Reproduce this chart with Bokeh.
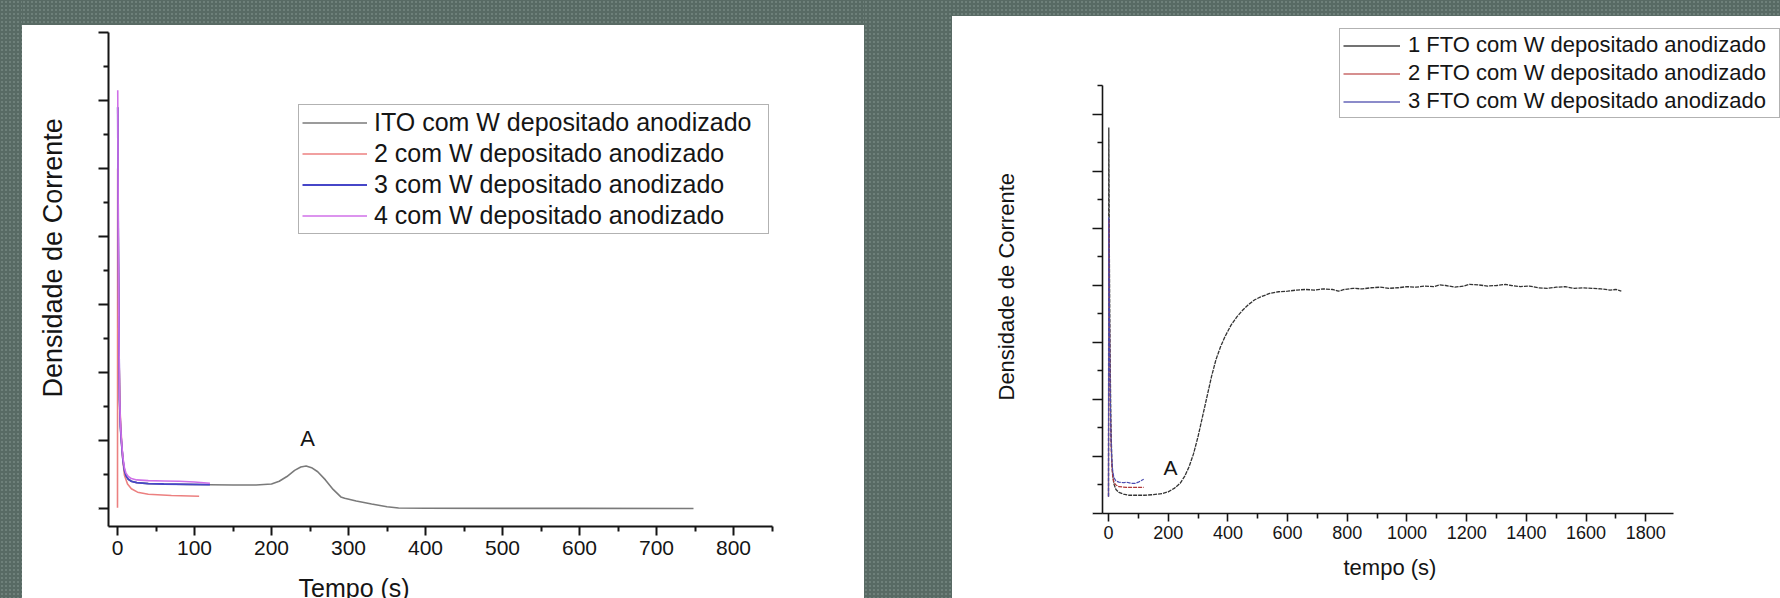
from bokeh.plotting import figure
from bokeh.layouts import row, column
from bokeh.models import (Label, Legend, LegendItem, FixedTicker, Range1d, Title, Spacer,
                          LinearAxis)
from bokeh.embed import file_html
from bokeh.resources import INLINE

# ---------------- data: left chart (ITO) ----------------
ito_t = [0.3, 1.0, 1.8, 2.6, 3.8, 5, 7, 9, 11, 14, 18, 25, 40, 60, 90, 120, 150, 180, 200,
         210, 220, 230, 238, 245, 252, 260, 270, 280, 290, 295, 310, 330, 350, 365, 400, 500, 600, 748]
ito_y = [5.9, 4.0, 2.6, 1.6, 1.2, 0.99, 0.72, 0.56, 0.48, 0.43, 0.40, 0.38, 0.365, 0.36, 0.355, 0.35, 0.345, 0.345, 0.36,
         0.40, 0.47, 0.56, 0.61, 0.625, 0.60, 0.54, 0.42, 0.28, 0.17, 0.15, 0.11, 0.065, 0.025, 0.006, 0.003, 0.002, 0.001, 0.0]

w2_t = [0, 0.2, 1.0, 2.0, 3.5, 5.5, 7, 9, 13, 18, 26, 40, 70, 106]
w2_y = [0.01, 5.0, 3.5, 2.2, 1.4, 0.95, 0.7, 0.49, 0.36, 0.29, 0.24, 0.21, 0.19, 0.18]

w3_t = [0.3, 1.0, 1.8, 2.6, 3.8, 5, 7, 9, 11, 14, 18, 25, 40, 60, 90, 120]
w3_y = [5.9, 4.0, 2.6, 1.6, 1.2, 0.99, 0.72, 0.56, 0.48, 0.43, 0.40, 0.38, 0.365, 0.36, 0.355, 0.35]

w4_t = [0.3, 1.0, 1.8, 2.6, 3.8, 5, 7, 9, 11, 14, 18, 25, 40, 60, 80, 100, 120]
w4_y = [6.15, 4.1, 2.7, 1.7, 1.25, 1.02, 0.75, 0.6, 0.52, 0.47, 0.44, 0.42, 0.41, 0.405, 0.40, 0.39, 0.37]

left_labels = ["ITO com W depositado anodizado", "2 com W depositado anodizado",
               "3 com W depositado anodizado", "4 com W depositado anodizado"]
left_xticks = [0, 100, 200, 300, 400, 500, 600, 700, 800]
left_xminor = [50, 150, 250, 350, 450, 550, 650, 750, 850]
left_yticks = [0, 1, 2, 3, 4, 5, 6, 7]
left_yminor = [0.5, 1.5, 2.5, 3.5, 4.5, 5.5, 6.5]

# ---------------- data: right chart (FTO) ----------------
f1_t = [0, 1, 3, 5, 8, 11, 14, 18, 25, 35, 50, 70, 90, 120, 150, 180, 200, 220, 240, 255, 270, 285,
        300, 315, 330, 345, 360, 375, 390, 410, 430, 450, 470, 490, 510, 540, 570,
        600, 630, 660, 690, 720, 750, 770, 790, 820, 850, 880, 910, 940, 970, 1000, 1030, 1060, 1090,
        1110, 1130, 1160, 1190, 1210, 1240, 1270, 1300, 1330, 1350, 1380, 1410, 1440, 1470, 1500,
        1530, 1560, 1590, 1620, 1650, 1680, 1700, 1718]
f1_y = [0.3, 6.77, 4.5, 3.0, 1.6, 0.95, 0.68, 0.52, 0.42, 0.37, 0.34, 0.32, 0.32, 0.32, 0.33, 0.35, 0.38, 0.44, 0.53, 0.65, 0.82, 1.05,
        1.35, 1.7, 2.05, 2.4, 2.7, 2.92, 3.1, 3.3, 3.45, 3.57, 3.67, 3.75, 3.8, 3.86, 3.89,
        3.90, 3.92, 3.93, 3.92, 3.94, 3.93, 3.90, 3.93, 3.95, 3.94, 3.96, 3.97, 3.95, 3.96, 3.98, 3.97, 3.99, 3.98,
        4.01, 4.00, 3.97, 3.99, 4.02, 4.01, 3.99, 4.00, 4.02, 4.00, 3.98, 3.99, 3.96, 3.95, 3.97,
        3.98, 3.95, 3.96, 3.95, 3.94, 3.92, 3.93, 3.90]

f2_t = [0, 1, 3, 5, 8, 11, 14, 18, 25, 35, 60, 90, 118]
f2_y = [0.3, 5.15, 3.5, 2.3, 1.3, 0.85, 0.65, 0.55, 0.50, 0.47, 0.46, 0.46, 0.46]

f3_t = [0, 1, 3, 5, 8, 11, 14, 18, 25, 35, 50, 60, 75, 90, 100, 110, 118]
f3_y = [0.3, 5.2, 3.6, 2.4, 1.4, 0.95, 0.75, 0.63, 0.57, 0.55, 0.54, 0.55, 0.53, 0.53, 0.55, 0.58, 0.60]

right_labels = ["1 FTO com W depositado anodizado", "2 FTO com W depositado anodizado",
                "3 FTO com W depositado anodizado"]
right_xticks = [0, 200, 400, 600, 800, 1000, 1200, 1400, 1600, 1800]
right_xminor = [100, 300, 500, 700, 900, 1100, 1300, 1500, 1700]
right_yticks = [0, 1, 2, 3, 4, 5, 6, 7]
right_yminor = [0.5, 1.5, 2.5, 3.5, 4.5, 5.5, 6.5, 7.5]

FONT = "Liberation Sans"
INK = "#151515"


def style_axes(p, lw, xtick, ytick, tick_minor, label_size, standoff):
    p.grid.visible = False
    p.outline_line_color = None
    for ax, tk in ((p.xaxis[0], xtick), (p.yaxis[0], ytick)):
        ax.axis_line_width = lw
        ax.axis_line_color = INK
        ax.major_tick_line_width = lw
        ax.minor_tick_line_width = lw
        ax.major_tick_line_color = INK
        ax.minor_tick_line_color = INK
        ax.major_tick_in = 0
        ax.minor_tick_in = 0
        ax.major_tick_out = tk
        ax.minor_tick_out = tick_minor
    p.xaxis.major_label_text_font = FONT
    p.xaxis.major_label_text_font_size = label_size
    p.xaxis.major_label_text_color = INK
    p.xaxis.major_label_standoff = standoff
    p.yaxis.major_label_text_color = None
    p.yaxis.major_label_standoff = 0


def title(text, size, offset):
    return Title(text=text, align="left", offset=offset, standoff=0,
                 text_font=FONT, text_font_size=size, text_font_style="normal",
                 text_color=INK)


def pad_axis(px, at):
    # blank axis (no line, white tick on white, no labels) that only reserves px of room
    return LinearAxis(ticker=FixedTicker(ticks=[at], minor_ticks=[]), axis_line_color=None,
                      major_tick_out=px, major_tick_in=0, minor_tick_out=0, minor_tick_in=0,
                      major_tick_line_color="white", major_tick_line_width=1,
                      major_label_text_color=None, major_label_standoff=0)


# ---------------- left figure ----------------
p1 = figure(width=842, height=581, title=None, output_backend="svg", toolbar_location=None,
            x_range=Range1d(-11.7, 850.6), y_range=Range1d(-0.265, 7.103),
            min_border_left=86, min_border_right=92, min_border_top=0, min_border_bottom=80,
            background_fill_color="white", border_fill_color="white")
style_axes(p1, 2, 9, 10, 5, "21px", 5)
p1.xaxis.ticker = FixedTicker(ticks=left_xticks, minor_ticks=left_xminor)
p1.yaxis.ticker = FixedTicker(ticks=left_yticks, minor_ticks=left_yminor)
p1.yaxis.bounds = (-0.265, 7.0)

r_ito = p1.line(ito_t, ito_y, line_color="#7a7a7a", line_width=1.6)
r_w2 = p1.line(w2_t, w2_y, line_color="#ec8080", line_width=1.6)
r_w3 = p1.line(w3_t, w3_y, line_color="#4646c8", line_width=1.8)
r_w4 = p1.line(w4_t, w4_y, line_color="#d070e8", line_width=1.6)

leg1 = Legend(items=[LegendItem(label=l, renderers=[r]) for l, r in
                     zip(left_labels, [r_ito, r_w2, r_w3, r_w4])],
              location=(190, 292), label_text_font=FONT, label_text_font_size="25px",
              label_text_color=INK, glyph_width=65, glyph_height=29, label_height=29,
              label_width=391, label_standoff=7, spacing=2, padding=3, margin=0,
              border_line_color="#666666", border_line_width=1.5, background_fill_color="white",
              background_fill_alpha=1.0)
p1.add_layout(leg1)

p1.add_layout(Label(x=247, y=1.03, text="A", text_font=FONT, text_font_size="22px",
                    text_color=INK, text_align="center", text_baseline="middle"))
p1.add_layout(pad_axis(14, 800), "below")
p1.add_layout(title("Tempo (s)", "25px", 190), "below")
p1.add_layout(pad_axis(31, 0), "left")
p1.add_layout(title("Densidade de Corrente", "27px", 129), "left")

# ---------------- right figure ----------------
p2 = figure(width=828, height=577, title=None, output_backend="svg", toolbar_location=None,
            x_range=Range1d(-20.1, 2251.3), y_range=Range1d(0, 8.719),
            min_border_left=150, min_border_right=0, min_border_top=0, min_border_bottom=80,
            background_fill_color="white", border_fill_color="white")
style_axes(p2, 1.6, 8, 10, 5, "18px", 4)
p2.xaxis.ticker = FixedTicker(ticks=right_xticks, minor_ticks=right_xminor)
p2.yaxis.ticker = FixedTicker(ticks=right_yticks, minor_ticks=right_yminor)
p2.xaxis.bounds = (-20.1, 1893)
p2.yaxis.bounds = (0, 7.51)

c_f1, c_f2, c_f3 = "#333333", "#b03838", "#4a4ab0"
p2.line(f1_t, f1_y, line_color=c_f1, line_width=1.3, line_dash="4 1")
p2.line(f2_t, f2_y, line_color=c_f2, line_width=1.2, line_dash="4 1")
p2.line(f3_t, f3_y, line_color=c_f3, line_width=1.2, line_dash="4 1")
# solid swatches for the legend: single-point lines (draw nothing in the plot)
k1 = p2.line(f1_t[-1:], f1_y[-1:], line_color="#444444", line_width=1.3)
k2 = p2.line(f2_t[-1:], f2_y[-1:], line_color="#c86a6a", line_width=1.3)
k3 = p2.line(f3_t[-1:], f3_y[-1:], line_color="#6464b8", line_width=1.3)

leg2 = Legend(items=[LegendItem(label=l, renderers=[r]) for l, r in
                     zip(right_labels, [k1, k2, k3])],
              location=(237, 395), label_text_font=FONT, label_text_font_size="22px",
              label_text_color=INK, glyph_width=57, glyph_height=25, label_height=25,
              label_width=368, label_standoff=8, spacing=2, padding=3, margin=0,
              border_line_color="#666666", border_line_width=1.5, background_fill_color="white",
              background_fill_alpha=1.0)
p2.add_layout(leg2)

p2.add_layout(Label(x=208, y=0.8, text="A", text_font=FONT, text_font_size="21px",
                    text_color=INK, text_align="center", text_baseline="middle"))
p2.add_layout(pad_axis(11, 1800), "below")
p2.add_layout(title("tempo (s)", "22px", 241), "below")
p2.add_layout(pad_axis(74, 0), "left")
p2.add_layout(title("Densidade de Corrente", "22px", 113), "left")

bg = {"background-color": "#586a64",
      "background-image": "radial-gradient(circle, #6e807a 1px, rgba(0,0,0,0) 1.4px)",
      "background-size": "4px 4px"}
p = row(
    Spacer(width=22, height=598, styles=bg),
    column(Spacer(width=842, height=25, styles=bg), p1),
    Spacer(width=88, height=598, styles=bg),
    column(Spacer(width=828, height=16, styles=bg), p2),
    height=598, styles={"overflow": "hidden"},
)

open("out.html", "w").write(file_html(p, INLINE))
